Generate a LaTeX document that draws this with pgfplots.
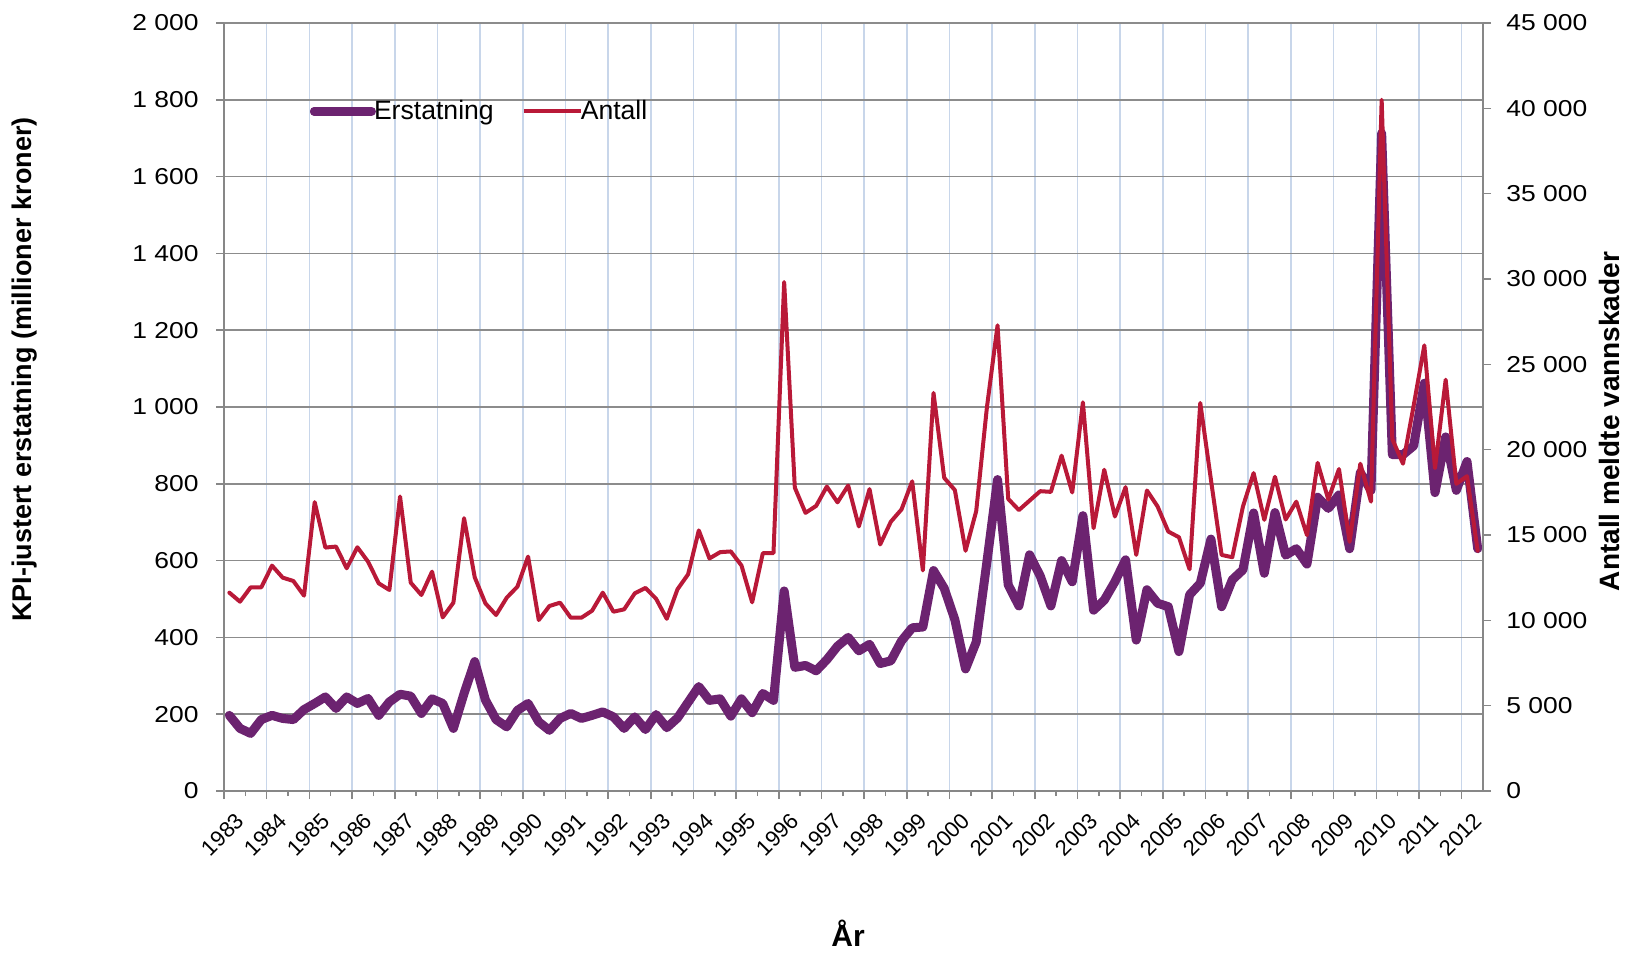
\documentclass[border=0pt]{standalone}
\usepackage{fontspec}
\setmainfont{Liberation Sans}
\newfontfamily\widefont[FakeStretch=1.15]{Liberation Sans}
\usepackage{pgfplots}
\pgfplotsset{compat=1.18}
\usepackage{pgfplotstable}
\definecolor{erst}{RGB}{108,35,112}
\definecolor{antall}{RGB}{185,25,56}
\definecolor{hgrid}{RGB}{140,140,140}
\definecolor{vgrid}{RGB}{200,214,234}
\definecolor{axgray}{RGB}{135,135,135}

\pgfplotstableread{
x e a
1983.125 197 11622
1983.375 163 11093
1983.625 150 11935
1983.875 186 11935
1984.125 197 13206
1984.375 189 12502
1984.625 186 12306
1984.875 212 11446
1985.125 228 16924
1985.375 245 14263
1985.625 215 14322
1985.875 245 13050
1986.125 228 14282
1986.375 241 13441
1986.625 197 12169
1986.875 232 11778
1987.125 252 17256
1987.375 247 12209
1987.625 202 11485
1987.875 240 12854
1988.125 228 10174
1988.375 163 11035
1988.625 254 15985
1988.875 337 12522
1989.125 237 10996
1989.375 186 10311
1989.625 167 11328
1989.875 210 11974
1990.125 228 13735
1990.375 180 10017
1990.625 158 10839
1990.875 189 11035
1991.125 202 10154
1991.375 189 10154
1991.625 197 10565
1991.875 206 11622
1992.125 193 10506
1992.375 163 10643
1992.625 193 11582
1992.875 160 11900
1993.125 199 11261
1993.375 165 10090
1993.625 190 11816
1993.875 231 12700
1994.125 272 15269
1994.375 236 13625
1994.625 240 13995
1994.875 195 14036
1995.125 240 13214
1995.375 204 11056
1995.625 254 13933
1995.875 236 13933
1996.125 521 29818
1996.375 322 17776
1996.625 327 16296
1996.875 313 16707
1997.125 342 17837
1997.375 377 16913
1997.625 400 17899
1997.875 365 15500
1998.125 382 17688
1998.375 332 14446
1998.625 339 15780
1998.875 391 16500
1999.125 425 18145
1999.375 427 12920
1999.625 574 23322
1999.875 528 18349
2000.125 446 17631
2000.375 318 14076
2000.625 388 16398
2000.875 596 22460
2001.125 811 27286
2001.375 537 17116
2001.625 482 16459
2001.875 615 17013
2002.125 560 17568
2002.375 482 17527
2002.625 600 19650
2002.875 545 17492
2003.125 717 22775
2003.375 471 15399
2003.625 497 18823
2003.875 545 16083
2004.125 602 17805
2004.375 393 13833
2004.625 524 17609
2004.875 489 16670
2005.125 480 15203
2005.375 363 14870
2005.625 511 12992
2005.875 541 22736
2006.125 656 18236
2006.375 480 13833
2006.625 550 13696
2006.875 576 16670
2007.125 724 18627
2007.375 567 15887
2007.625 725 18410
2007.875 614 15908
2008.125 631 16954
2008.375 591 14993
2008.625 765 19228
2008.875 736 17084
2009.125 771 18864
2009.375 631 14599
2009.625 829 19177
2009.875 783 16954
2010.125 1713 40500
2010.375 876 20616
2010.625 876 19177
2010.875 899 22579
2011.125 1062 26111
2011.375 777 18917
2011.625 922 24098
2011.875 783 18000
2012.125 858 18446
2012.375 631 14077
}\data

\begin{document}
\begin{tikzpicture}
\useasboundingbox (-112pt,-81pt) rectangle (701pt,395.5pt);
\begin{axis}[
  at={(0,0)}, anchor=south west,
  scale only axis, width=629.5pt, height=384pt,
  xmin=1983, xmax=2012.5, ymin=0, ymax=2000,
  axis x line*=bottom, axis y line*=left,
  axis line style={axgray, line width=1pt},
  xtick={1983,1984,1985,1986,1987,1988,1989,1990,1991,1992,1993,1994,1995,1996,1997,1998,1999,2000,2001,2002,2003,2004,2005,2006,2007,2008,2009,2010,2011,2012},
  xticklabels={1983,1984,1985,1986,1987,1988,1989,1990,1991,1992,1993,1994,1995,1996,1997,1998,1999,2000,2001,2002,2003,2004,2005,2006,2007,2008,2009,2010,2011,2012},
  minor x tick num=1,
  ytick={0,200,400,600,800,1000,1200,1400,1600,1800,2000},
  yticklabels={0,200,400,600,800,1 000,1 200,1 400,1 600,1 800,2 000},
  tick align=outside,
  major tick length=4pt, minor tick length=2.5pt,
  tick style={axgray, line width=0.8pt},
  ymajorgrids, xmajorgrids,
  y grid style={hgrid, line width=0.8pt},
  x grid style={vgrid, line width=0.8pt},
  xticklabel style={rotate=45, anchor=north east, inner sep=0pt, xshift=-0.5pt, yshift=-8pt, font=\fontsize{11}{12}\selectfont},
  yticklabel style={inner sep=0pt, font=\widefont\fontsize{11.5}{13}\selectfont},
  yticklabel shift=8.5pt,
  legend columns=2,
  legend style={at={(0.068,0.885)}, anchor=west, draw=none, fill=none, inner sep=0pt,
    nodes={inner xsep=1pt, inner ysep=2pt},
    font=\fontsize{13.3}{15}\selectfont,
    /tikz/every even column/.append style={column sep=13pt}},
  legend image code/.code={\draw[#1, overlay] (0pt,0pt) -- (28.5pt,0pt); \path (0pt,0pt) -- (26.5pt,0pt);},
]
\addplot[erst, line width=4.5pt, line join=round, line cap=round] table[x=x, y=e] {\data};
\addlegendentry{Erstatning}
\addlegendimage{antall, line width=2pt}
\addlegendentry{Antall}
\end{axis}
\begin{axis}[
  at={(0,0)}, anchor=south west,
  scale only axis, width=629.5pt, height=384pt,
  xmin=1983, xmax=2012.5, ymin=0, ymax=45000,
  axis x line=none, axis y line*=right,
  axis line style={axgray, line width=1pt},
  ytick={0,5000,10000,15000,20000,25000,30000,35000,40000,45000},
  yticklabels={0,5 000,10 000,15 000,20 000,25 000,30 000,35 000,40 000,45 000},
  tick align=outside,
  major tick length=4pt,
  tick style={axgray, line width=0.8pt},
  yticklabel style={inner sep=0pt, anchor=west, font=\widefont\fontsize{11.5}{13}\selectfont},
  yticklabel shift=7.5pt,
]
\addplot[antall, line width=2pt, line join=round, line cap=round] table[x=x, y=a] {\data};
\end{axis}
\node[rotate=90, font=\bfseries\fontsize{13.5}{16}\selectfont] at (-99.5pt,210.75pt) {KPI-justert erstatning (millioner kroner)};
\node[rotate=90, font=\bfseries\fontsize{14}{16}\selectfont] at (692.5pt,184.75pt) {Antall meldte vannskader};
\node[font=\bfseries\fontsize{15}{18}\selectfont] at (312pt,-71pt) {År};
\end{tikzpicture}
\end{document}
